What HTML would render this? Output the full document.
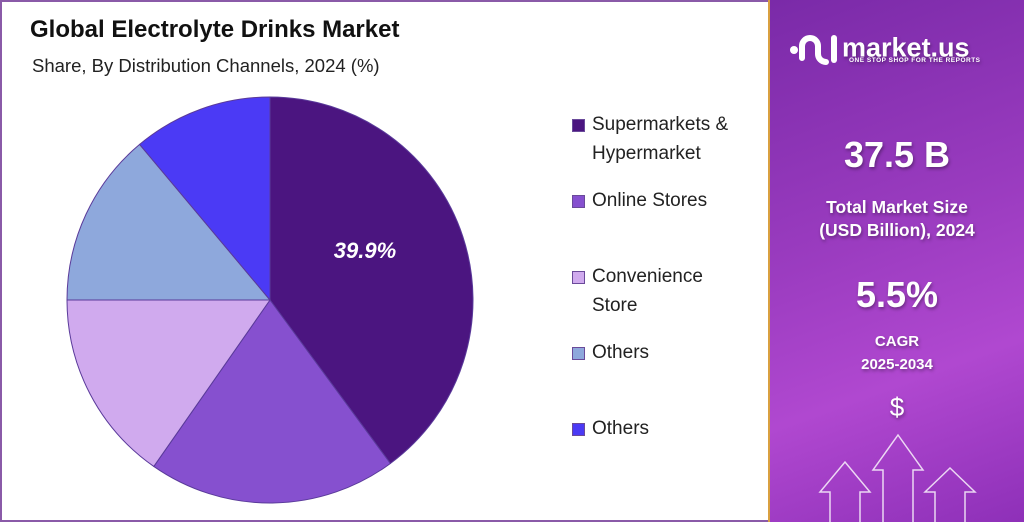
<!DOCTYPE html>
<html><head><meta charset="utf-8"><style>
body{margin:0;width:1024px;height:522px;overflow:hidden;background:#fff;font-family:"Liberation Sans",sans-serif;position:relative}
#left{position:absolute;left:0;top:0;width:766px;height:518px;border:2px solid #8a5aa8;border-right:none;box-sizing:content-box}
#title{position:absolute;left:30px;top:16px;font-size:24px;font-weight:bold;color:#111}
#sub{position:absolute;left:32px;top:55px;font-size:18.5px;color:#222}
.lg{position:absolute;left:572px;font-size:19px;color:#222;line-height:29px}
.lg i{position:absolute;left:0;top:9px;width:13px;height:13px;box-sizing:border-box;border:1px solid #6a4a9a}
.lg span{position:absolute;left:20px;white-space:nowrap}
#right{position:absolute;left:768px;top:0;width:256px;height:522px;background:linear-gradient(160deg,#7a2aa8 0%,#9b3cc0 45%,#b048d0 70%,#8e30b8 100%);color:#fff;text-align:center;border-left:2px solid #d9a040;box-sizing:border-box}
.t{position:absolute;left:0;width:100%;font-weight:bold;text-shadow:1px 2px 3px rgba(0,0,0,.35)}
</style></head><body>
<div id="left"></div>
<div id="title">Global Electrolyte Drinks Market</div>
<div id="sub">Share, By Distribution Channels, 2024 (%)</div>
<svg id="pie" width="560" height="522" style="position:absolute;left:0;top:0"></svg>
<div id="legend"></div>
<div id="right">
  <div class="t" style="top:28px;font-size:27px;left:18px;text-align:left">
    <svg width="54" height="40" style="vertical-align:middle"><circle cx="6" cy="22" r="4" fill="#fff"/><path d="M14 30 V18 a8 8 0 0 1 16 0 V26 a8 8 0 0 0 8 8" stroke="#fff" stroke-width="6" fill="none" stroke-linecap="round"/><line x1="46" y1="10" x2="46" y2="32" stroke="#fff" stroke-width="6" stroke-linecap="round"/></svg><span style="vertical-align:middle">market.us</span>
  </div>
  <div class="t" style="top:57px;left:79px;width:auto;font-size:6.5px;letter-spacing:.5px">ONE STOP SHOP FOR THE REPORTS</div>
  <div class="t" style="top:134px;font-size:36px">37.5 B</div>
  <div class="t" style="top:196px;font-size:17.5px;line-height:23px">Total Market Size<br>(USD Billion), 2024</div>
  <div class="t" style="top:274px;font-size:36px">5.5%</div>
  <div class="t" style="top:330px;font-size:15px;line-height:23px">CAGR<br>2025-2034</div>
  <div class="t" style="top:392px;font-size:26px;font-weight:normal">$</div>
  <svg style="position:absolute;left:0;top:430px" width="256" height="92">
    <g fill="none" stroke="rgba(255,255,255,.8)" stroke-width="1.5">
      <path d="M60 92 V62 H50 L75 32 L100 62 H90 V92"/>
      <path d="M113 92 V40 H103 L128 5 L153 40 H143 V92"/>
      <path d="M165 92 V62 H155 L180 38 L205 62 H195 V92"/>
    </g>
  </svg>
</div>
<script>
const categories=["Supermarkets & Hypermarket","Online Stores","Convenience Store","Others","Others"];
const values=[39.9,19.8,15.3,13.9,11.1];
const colors=["#4b1580","#8650cf","#d0aaee","#8ea8dc","#4b3af5"];
const legendY=[119,195,271,347,423];
const legendLabels=[["Supermarkets &","Hypermarket"],["Online Stores"],["Convenience","Store"],["Others"],["Others"]];
const NS="http://www.w3.org/2000/svg";
const svg=document.getElementById('pie');
const cx=270,cy=300,r=203;
const total=values.reduce((a,b)=>a+b,0);
let a0=0;
values.forEach((v,i)=>{
  const a1=a0+v/total*2*Math.PI;
  const x0=cx+r*Math.sin(a0),y0=cy-r*Math.cos(a0),x1=cx+r*Math.sin(a1),y1=cy-r*Math.cos(a1);
  const p=document.createElementNS(NS,'path');
  p.setAttribute('d',`M${cx} ${cy} L${x0} ${y0} A${r} ${r} 0 ${a1-a0>Math.PI?1:0} 1 ${x1} ${y1} Z`);
  p.setAttribute('fill',colors[i]);
  p.setAttribute('stroke','#5a3a9a');p.setAttribute('stroke-width','1');
  
  
  svg.appendChild(p);
  if(i===0){
    const t=document.createElementNS(NS,'text');
    t.setAttribute('x',365);t.setAttribute('y',258);t.setAttribute('text-anchor','middle');
    t.setAttribute('fill','#fff');t.setAttribute('font-size','22');t.setAttribute('font-weight','bold');t.setAttribute('font-style','italic');
    t.setAttribute('font-family','Liberation Sans, sans-serif');
    t.textContent=v.toFixed(1)+'%';
    
    
    svg.appendChild(t);
  }
  a0=a1;
});
const lg=document.getElementById('legend');
categories.forEach((c,i)=>{
  const d=document.createElement('div');
  d.className='lg';d.style.top=(legendY[i]-9)+'px';
  
  
  d.innerHTML=`<i style="background:${colors[i]}"></i><span>${legendLabels[i].join('<br>')}</span>`;
  lg.appendChild(d);
});
</script>
</body></html>
